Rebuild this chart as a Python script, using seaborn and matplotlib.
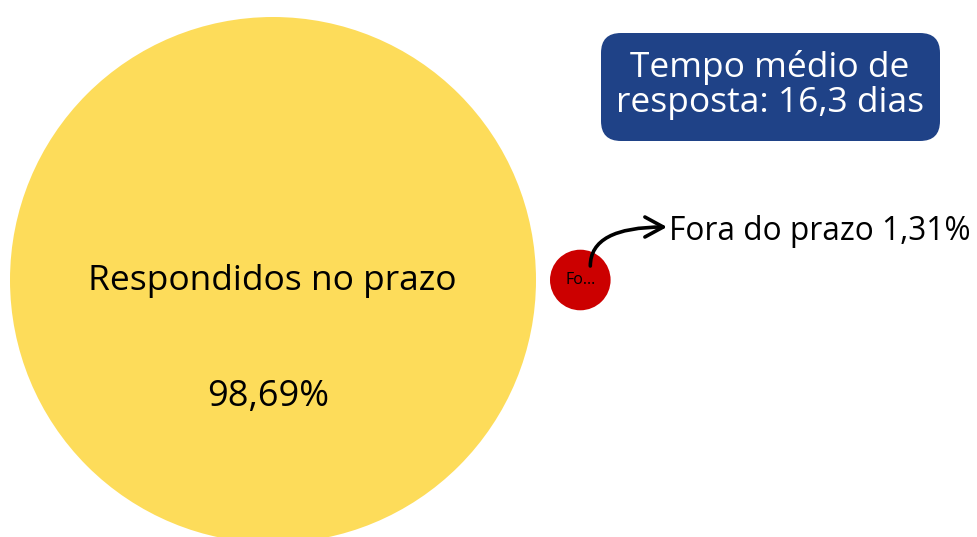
import matplotlib
matplotlib.use("Agg")
import matplotlib.pyplot as plt
from matplotlib.patches import FancyBboxPatch
import numpy as np
import pandas as pd
import seaborn as sns

# Data
categories = ["Respondidos no prazo", "Fora do prazo"]
values = [98.69, 1.31]
short_labels = ["Respondidos no prazo", "Fo..."]
value_labels = ["98,69%", "1,31%"]
colors = ["#FDDC5A", "#CC0000"]
info_text = "Tempo médio de\nresposta: 16,3 dias"

sns.set_theme(style="white")
plt.rcParams["font.family"] = ["Open Sans", "DejaVu Sans"]

W, H, DPI = 977, 537, 100
fig = plt.figure(figsize=(W / DPI, H / DPI), dpi=DPI)
ax = fig.add_axes([0, 0, 1, 1])

# Bubble layout: area proportional to value, bubbles side by side
r_max = 263.0
radii = [r_max * np.sqrt(v / max(values)) for v in values]
gap = 14.0
cx0, cy = 273.0, 280.0
xs = [cx0, cx0 + radii[0] + gap + radii[1]]
df = pd.DataFrame({"categoria": categories, "valor": values, "x": xs, "y": [cy, cy]})

px_to_pt = 72.0 / DPI
s_max = (2 * r_max * px_to_pt) ** 2
sns.scatterplot(
    data=df, x="x", y="y", hue="categoria", size="valor",
    palette=dict(zip(categories, colors)),
    sizes=(0, s_max), size_norm=(0, max(values)),
    linewidth=0, legend=False, ax=ax, zorder=2,
)
ax.set_xlim(0, W)
ax.set_ylim(H, 0)
ax.set_axis_off()

# Labels inside the large bubble
ax.text(xs[0] - 1, cy + 1, short_labels[0], ha="center", va="center", fontsize=25.5, color="black", zorder=3)
ax.text(xs[0] - 5, cy + 117, value_labels[0], ha="center", va="center", fontsize=26, color="black", zorder=3)

# Small bubble label and callout
ax.text(xs[1], cy, short_labels[1], ha="center", va="center", fontsize=11.5, color="black", zorder=3)
ax.text(669, 232, f"{categories[1]} {value_labels[1]}", ha="left", va="center",
        fontsize=22.8, color="black", zorder=3)
ax.annotate(
    "", xy=(667, 227), xytext=(xs[1] + 10, cy - 14),
    arrowprops=dict(arrowstyle="->,head_length=1.1,head_width=0.6", lw=2.6, color="black",
                    connectionstyle="angle3,angleA=90,angleB=0", shrinkA=0, shrinkB=0),
    zorder=3,
)

# Info box
box = FancyBboxPatch((601, 33), 339, 108, boxstyle="round,pad=0,rounding_size=20",
                     facecolor="#1F4287", edgecolor="none", zorder=2)
ax.add_patch(box)
ax.text(770, 85, info_text, ha="center", va="center", fontsize=25.5, color="white",
        linespacing=1.02, zorder=3)

fig.savefig("out.png", dpi=DPI)
